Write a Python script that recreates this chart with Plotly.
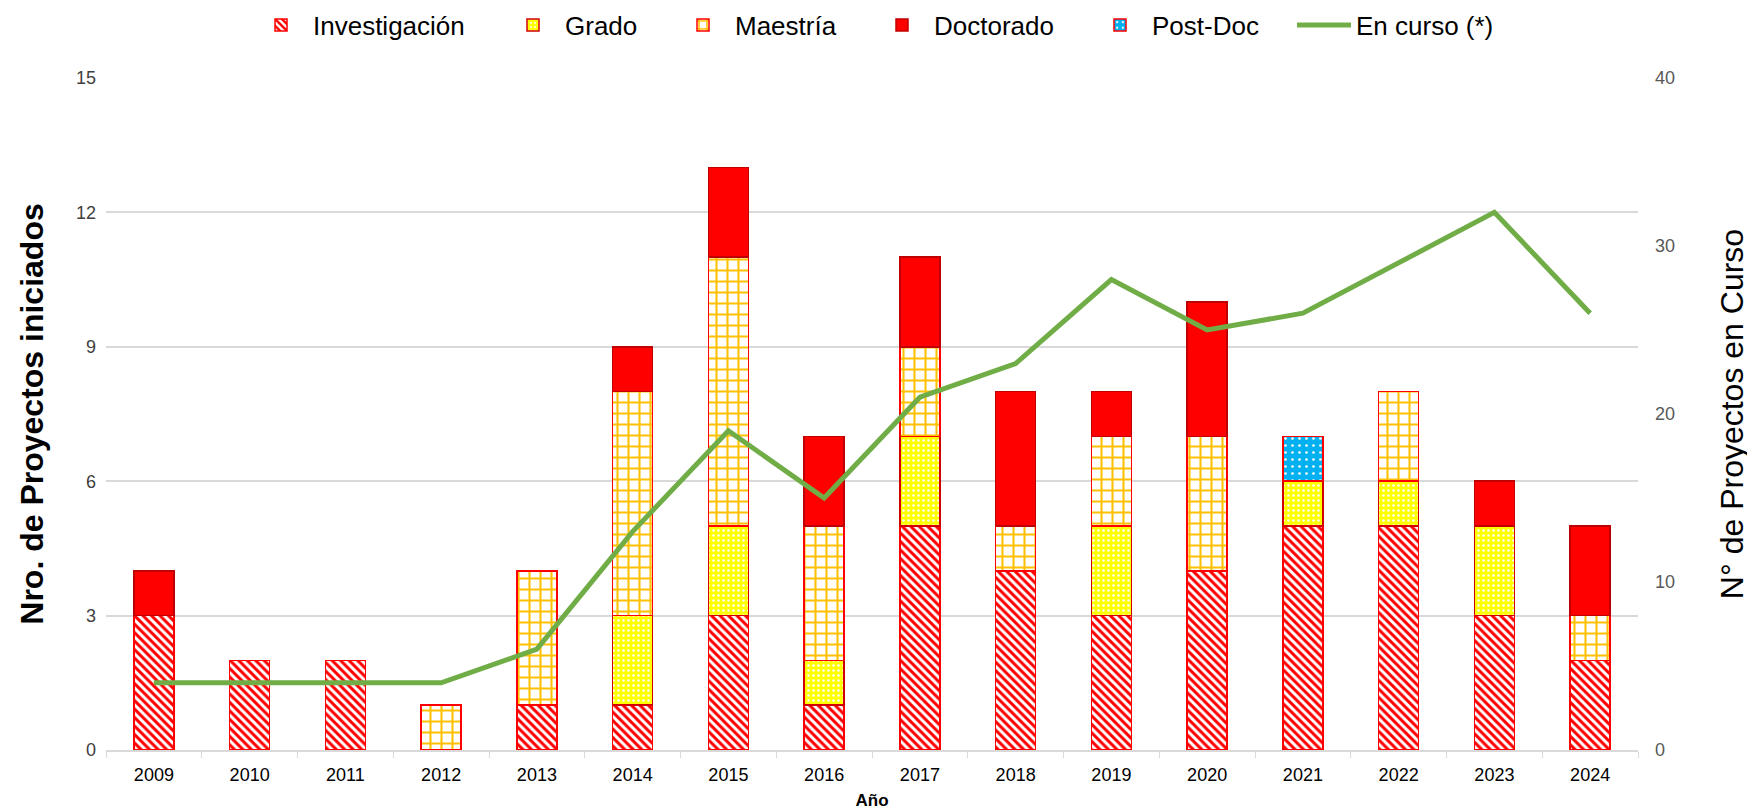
import plotly.graph_objects as go

years = ["2009", "2010", "2011", "2012", "2013", "2014", "2015", "2016",
         "2017", "2018", "2019", "2020", "2021", "2022", "2023", "2024"]
investigacion = [3, 2, 2, 0, 1, 1, 3, 1, 5, 4, 3, 4, 5, 5, 3, 2]
grado =         [0, 0, 0, 0, 0, 2, 2, 1, 2, 0, 2, 0, 1, 1, 2, 0]
maestria =      [0, 0, 0, 1, 3, 5, 6, 3, 2, 1, 2, 3, 0, 2, 0, 1]
doctorado =     [1, 0, 0, 0, 0, 1, 2, 2, 2, 3, 1, 3, 0, 0, 1, 2]
postdoc =       [0, 0, 0, 0, 0, 0, 0, 0, 0, 0, 0, 0, 1, 0, 0, 0]
en_curso =      [4, 4, 4, 4, 6, 13, 19, 15, 21, 23, 28, 25, 26, 29, 32, 26]

FONT = "Liberation Sans, Arial, sans-serif"

# layout geometry (figure px)
W, H = 1755, 812
ML, MR, MT, MB = 98, 125, 70, 70
PW = W - ML - MR
PH = H - MT - MB

# legend entry positions (figure px, symbol centres)
legend_x_px = [273, 525, 695, 894, 1112, 1316]
legend_y_px = 17


def nz(vals):
    return [v if v != 0 else None for v in vals]


fig = go.Figure()

fig.add_trace(go.Bar(
    name="Investigación", x=years, y=nz(investigacion), legend="legend",
    marker=dict(color="white", line=dict(color="#FF0000", width=1.5),
                pattern=dict(shape="\\", fgcolor="#FF0000", bgcolor="white",
                             size=6, solidity=0.5, fillmode="replace")),
))
fig.add_trace(go.Bar(
    name="Grado", x=years, y=nz(grado), legend="legend2",
    marker=dict(color="#FFFF00", line=dict(color="#D00000", width=1.5),
                pattern=dict(shape=".", fgcolor="white", bgcolor="#FFFF00",
                             size=5, solidity=0.2, fillmode="replace")),
))
fig.add_trace(go.Bar(
    name="Maestría", x=years, y=nz(maestria), legend="legend3",
    marker=dict(color="white", line=dict(color="#FF0000", width=1.5),
                pattern=dict(shape="+", fgcolor="#FFC000", bgcolor="white",
                             size=11, solidity=0.34, fillmode="replace")),
))
fig.add_trace(go.Bar(
    name="Doctorado", x=years, y=nz(doctorado), legend="legend4",
    marker=dict(color="#FF0000", line=dict(color="#C00000", width=1.5)),
))
fig.add_trace(go.Bar(
    name="Post-Doc", x=years, y=nz(postdoc), legend="legend5",
    marker=dict(color="#00B0F0", line=dict(color="#FF0000", width=1.5),
                pattern=dict(shape=".", fgcolor="white", bgcolor="#00B0F0",
                             size=7, solidity=0.12, fillmode="replace")),
))
fig.add_trace(go.Scatter(
    name="En curso (*)", x=years, y=en_curso, yaxis="y2", legend="legend6",
    mode="lines", line=dict(color="#70AD47", width=5),
))

legend_common = dict(orientation="h", xanchor="left", yanchor="middle",
                     y=1 + (MT - legend_y_px) / PH,
                     font=dict(size=26, family=FONT), itemwidth=54,
                     bgcolor="rgba(0,0,0,0)")
legends = {}
for i, px in enumerate(legend_x_px):
    key = "legend" if i == 0 else f"legend{i + 1}"
    legends[key] = dict(legend_common, x=(px - 32 - ML) / PW)

fig.update_layout(
    width=W, height=H,
    barmode="stack", bargap=0.58,
    plot_bgcolor="white", paper_bgcolor="white",
    font=dict(family=FONT, color="#000000"),
    margin=dict(l=ML, r=MR, t=MT, b=MB, autoexpand=False),
    showlegend=True,
    xaxis=dict(
        title=dict(text="<b>Año</b>", font=dict(size=17, family=FONT), standoff=10),
        tickfont=dict(size=18, family=FONT, color="#000000"),
        showline=True, linecolor="#D9D9D9", linewidth=1.5,
        ticks="outside", tickson="boundaries", ticklen=6, tickcolor="#D9D9D9",
        ticklabelstandoff=8,
        showgrid=False,
    ),
    yaxis=dict(
        title=dict(text="<b>Nro. de Proyectos iniciados</b>", font=dict(size=32, family=FONT),
                   standoff=22),
        range=[0, 15], dtick=3, tickfont=dict(size=18, family=FONT, color="#404040"),
        showgrid=True, gridcolor="#D9D9D9", gridwidth=1.5,
        zeroline=False, ticks="", ticklabelstandoff=9,
    ),
    yaxis2=dict(
        title=dict(text="N° de Proyectos en Curso", font=dict(size=32, family=FONT),
                   standoff=46),
        overlaying="y", side="right", range=[0, 40], dtick=10,
        tickfont=dict(size=18, family=FONT, color="#595959"),
        showgrid=False, zeroline=False, ticks="", ticklabelstandoff=16,
    ),
    **legends,
)

fig.write_html("out.html")
